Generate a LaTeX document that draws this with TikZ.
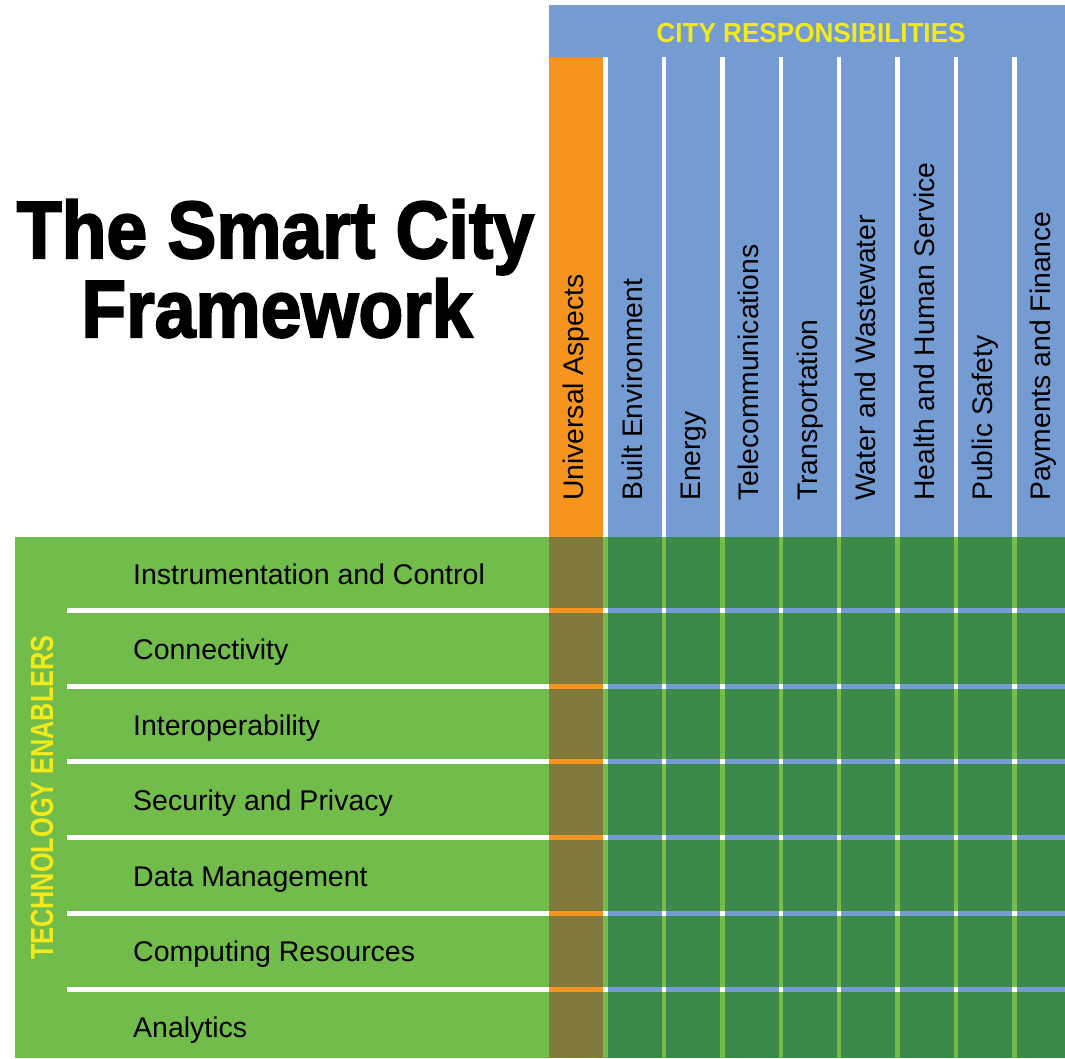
\documentclass[tikz,border=0pt]{standalone}
\usepackage{fontspec}
\usepackage{graphicx}
\setmainfont{Liberation Sans}
\newfontfamily\titlefont[FakeBold=2.6]{Liberation Sans Bold}
\newfontfamily\medfont{Liberation Sans Bold}
\definecolor{hblue}{HTML}{749BD2}
\definecolor{horange}{HTML}{F7941D}
\definecolor{lgreen}{HTML}{72BC4C}
\definecolor{dgreen}{HTML}{3C8A4A}
\definecolor{olive}{HTML}{807A3C}
\definecolor{tyellow}{HTML}{F2EA1A}
\begin{document}
\begin{tikzpicture}[x=1pt,y=-1pt,
  rowlbl/.style={inner sep=0pt, anchor=base west, font=\fontsize{28.5}{30}\selectfont, text=black},
  collbl/.style={inner sep=0pt, anchor=base west, rotate=90, font=\fontsize{28.3}{30}\selectfont, text=black},
  titletext/.style={inner sep=0pt, anchor=base, font=\titlefont\fontsize{81}{85}\selectfont, text=black},
  ]
\useasboundingbox (0,0) rectangle (1065,1058);
\fill[white] (0,0) rectangle (1065,1058);
% header block
\fill[hblue] (549,5) rectangle (1065,537);
\fill[horange] (549,57) rectangle (603.3,537);
\foreach \i in {0,...,7} \fill[white] ({603.3+58.4*\i},57) rectangle ++(4.5,480);
% enablers block
\fill[lgreen] (15,537) rectangle (549,1058);
\fill[olive] (549,537) rectangle (603.3,1058);
\fill[dgreen] (603.3,537) rectangle (1065,1058);
\foreach \i in {0,...,7} \fill[lgreen] ({603.3+58.4*\i},537) rectangle ++(4.5,521);
% row separators
\foreach \y in {610.5,686.2,761.9,837.6,913.3,989} {
  \fill[white] (67,\y-2.5) rectangle (549,\y+2.5);
  \fill[horange] (549,\y-2.5) rectangle (603.3,\y+2.5);
  \fill[hblue] (603.3,\y-2.5) rectangle (1065,\y+2.5);
  \foreach \i in {0,...,7} \fill[white] ({603.3+58.4*\i},\y-2.5) rectangle ++(4.5,5);
}
% title
\node[titletext] (title1) at (275.5,258) {\scalebox{0.905}[1]{The Smart City}};
\node[titletext] (title2) at (277,337) {\scalebox{0.905}[1]{Framework}};
% headings
\node[inner sep=0pt, anchor=base, text=tyellow, font=\medfont\fontsize{27.5}{30}\selectfont] (cityresp) at (811,42.5) {\scalebox{0.95}[1]{CITY RESPONSIBILITIES}};
\node[inner sep=0pt, anchor=base west, rotate=90, text=tyellow, font=\medfont\fontsize{32}{34}\selectfont] (techen) at (53,960) {\scalebox{0.79}[1]{TECHNOLOGY ENABLERS}};
% column labels
\node[collbl] (c0) at (583.5,501) {Universal Aspects};
\node[collbl] (c1) at (642,501) {Built Environment};
\node[collbl] (c2) at (700.4,501) {Energy};
\node[collbl] (c3) at (758.8,501) {Telecommunications};
\node[collbl] (c4) at (817.2,501) {Transportation};
\node[collbl] (c5) at (875.6,501) {Water and Wastewater};
\node[collbl] (c6) at (934,501) {Health and Human Service};
\node[collbl] (c7) at (992.4,501) {Public Safety};
\node[collbl] (c8) at (1050.8,501) {Payments and Finance};
% row labels
\node[rowlbl] (r1) at (133,584) {Instrumentation and Control};
\node[rowlbl] (r2) at (133,659.5) {Connectivity};
\node[rowlbl] (r3) at (133,735) {Interoperability};
\node[rowlbl] (r4) at (133,810.5) {Security and Privacy};
\node[rowlbl] (r5) at (133,886) {Data Management};
\node[rowlbl] (r6) at (133,961.5) {Computing Resources};
\node[rowlbl] (r7) at (133,1037) {Analytics};
\end{tikzpicture}
\end{document}
